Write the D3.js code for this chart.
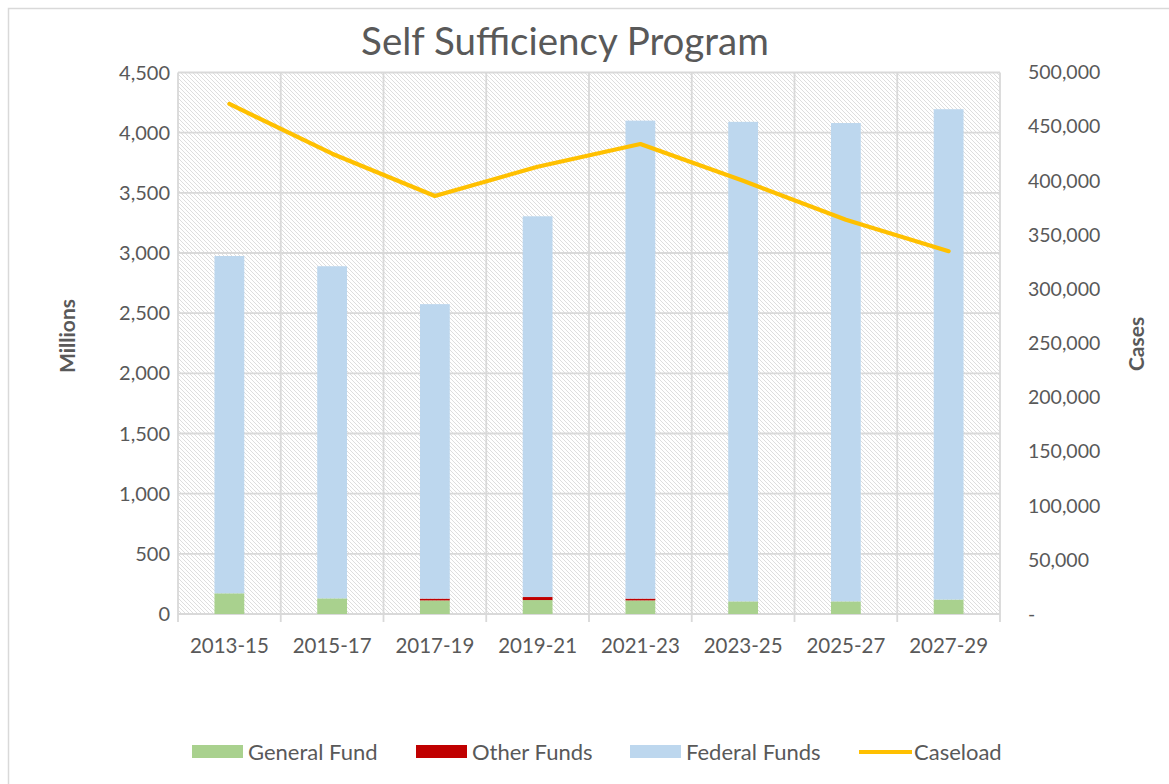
<!DOCTYPE html>
<html>
<head>
<meta charset="utf-8">
<script src="https://cdn.jsdelivr.net/npm/d3@7"></script>
<style>
  html, body { margin: 0; padding: 0; background: #ffffff; }
  svg { display: block; font-family: Lato, "Liberation Sans", sans-serif; }
</style>
</head>
<body>
<svg id="chart" width="1169" height="784"></svg>
<script>
// Biennium categories
const periods = ["2013-15", "2015-17", "2017-19", "2019-21", "2021-23", "2023-25", "2025-27", "2027-29"];

// Funding by source, in millions
const generalFund = [172, 130, 113, 116, 113, 105, 105, 120];
const otherFunds  = [0, 0, 15, 25, 15, 0, 0, 0];
const totalFunds  = [2975, 2890, 2575, 3305, 4100, 4090, 4080, 4195];
const federalFunds = totalFunds.map((t, i) => t - generalFund[i] - otherFunds[i]);

// Average caseload
const caseload = [471000, 425000, 386000, 413000, 434000, 400000, 364000, 335000];

// Axis ticks
const leftTicks = [0, 500, 1000, 1500, 2000, 2500, 3000, 3500, 4000, 4500];
const rightTicks = [0, 50000, 100000, 150000, 200000, 250000, 300000, 350000, 400000, 450000, 500000];

const seriesNames = ["General Fund", "Other Funds", "Federal Funds"];
const seriesColors = ["#a9d18e", "#c00000", "#bdd7ee"];
const lineColor = "#ffc000";
const textColor = "#595959";
const gridColor = "#d9d9d9";

const svg = d3.select("#chart");

// outer chart frame
svg.append("rect")
  .attr("x", 8.5).attr("y", 8.5)
  .attr("width", 1200).attr("height", 800)
  .attr("fill", "#ffffff")
  .attr("stroke", "#d9d9d9").attr("stroke-width", 1.5);

const plot = { left: 178, right: 1000, top: 72.5, bottom: 614 };

const x = d3.scaleBand().domain(periods).range([plot.left, plot.right]).paddingInner(0).paddingOuter(0);
const yL = d3.scaleLinear().domain([0, 4500]).range([plot.bottom, plot.top]);
const yR = d3.scaleLinear().domain([0, 500000]).range([plot.bottom, plot.top]);

// diagonal hatch fill for the plot area
const defs = svg.append("defs");
const pat = defs.append("pattern")
  .attr("id", "hatch").attr("patternUnits", "userSpaceOnUse")
  .attr("width", 4).attr("height", 4);
pat.append("rect").attr("width", 4).attr("height", 4).attr("fill", "#ffffff");
pat.append("path")
  .attr("d", "M-1,-1 L5,5 M-1,3 L1,5 M3,-1 L5,1")
  .attr("stroke", "#dadada").attr("stroke-width", 0.9);

svg.append("rect")
  .attr("x", plot.left).attr("y", plot.top)
  .attr("width", plot.right - plot.left).attr("height", plot.bottom - plot.top)
  .attr("fill", "url(#hatch)");

// horizontal gridlines
svg.append("g").selectAll("line").data(leftTicks).join("line")
  .attr("x1", plot.left).attr("x2", plot.right)
  .attr("y1", d => yL(d)).attr("y2", d => yL(d))
  .attr("stroke", gridColor).attr("stroke-width", 1.8);

// vertical gridlines at category boundaries
const bounds = periods.map(p => x(p)).concat([plot.right]);
svg.append("g").selectAll("line").data(bounds).join("line")
  .attr("x1", d => d).attr("x2", d => d)
  .attr("y1", plot.top).attr("y2", plot.bottom + 8)
  .attr("stroke", gridColor).attr("stroke-width", 1.8);

// stacked bars
const rows = periods.map((p, i) => ({
  period: p,
  "General Fund": generalFund[i],
  "Other Funds": otherFunds[i],
  "Federal Funds": federalFunds[i]
}));
const stacked = d3.stack().keys(seriesNames)(rows);
const barW = x.bandwidth() * 0.29;

svg.append("g").selectAll("g").data(stacked).join("g")
  .attr("fill", (d, i) => seriesColors[i])
  .selectAll("rect").data(d => d).join("rect")
  .attr("x", d => x(d.data.period) + x.bandwidth() / 2 - barW / 2)
  .attr("width", barW)
  .attr("y", d => yL(d[1]))
  .attr("height", d => Math.max(0, yL(d[0]) - yL(d[1])));

// caseload line
const line = d3.line()
  .x((d, i) => x(periods[i]) + x.bandwidth() / 2)
  .y(d => yR(d));
svg.append("path")
  .datum(caseload)
  .attr("d", line)
  .attr("fill", "none")
  .attr("stroke", lineColor)
  .attr("stroke-width", 4.2)
  .attr("stroke-linecap", "round")
  .attr("stroke-linejoin", "round");

// left axis labels
const fmt = d3.format(",");
svg.append("g").selectAll("text").data(leftTicks).join("text")
  .attr("x", 170).attr("y", d => yL(d))
  .attr("dy", "0.35em")
  .attr("text-anchor", "end")
  .attr("fill", textColor).attr("font-size", 20)
  .text(d => fmt(d));

// right axis labels
svg.append("g").selectAll("text").data(rightTicks).join("text")
  .attr("x", 1028).attr("y", d => yR(d))
  .attr("dy", "0.35em")
  .attr("text-anchor", "start")
  .attr("fill", textColor).attr("font-size", 19.5)
  .text(d => d === 0 ? "-" : fmt(d));

// category labels
svg.append("g").selectAll("text").data(periods).join("text")
  .attr("x", d => x(d) + x.bandwidth() / 2).attr("y", 646)
  .attr("dy", "0.35em")
  .attr("text-anchor", "middle")
  .attr("fill", textColor).attr("font-size", 20.5)
  .text(d => d);

// axis titles
svg.append("text")
  .attr("transform", "translate(75,336) rotate(-90)")
  .attr("text-anchor", "middle")
  .attr("fill", textColor).attr("font-size", 21).attr("font-weight", "bold")
  .text("Millions");
svg.append("text")
  .attr("transform", "translate(1144,344) rotate(-90)")
  .attr("text-anchor", "middle")
  .attr("fill", textColor).attr("font-size", 21).attr("font-weight", "bold")
  .text("Cases");

// title
svg.append("text")
  .attr("x", 565).attr("y", 42)
  .attr("dy", "0.35em")
  .attr("text-anchor", "middle")
  .attr("fill", textColor).attr("font-size", 38.5)
  .text("Self Sufficiency Program");

// legend
const legendItems = [
  { name: "General Fund", color: seriesColors[0], type: "rect", x: 192 },
  { name: "Other Funds", color: seriesColors[1], type: "rect", x: 416 },
  { name: "Federal Funds", color: seriesColors[2], type: "rect", x: 630 },
  { name: "Caseload", color: lineColor, type: "line", x: 859 }
];
const lg = svg.append("g").selectAll("g").data(legendItems).join("g")
  .attr("transform", d => `translate(${d.x},752)`);
lg.filter(d => d.type === "rect").append("rect")
  .attr("x", 0).attr("y", -7).attr("width", 51).attr("height", 13)
  .attr("fill", d => d.color);
lg.filter(d => d.type === "line").append("line")
  .attr("x1", 0).attr("x2", 53).attr("y1", 0).attr("y2", 0)
  .attr("stroke", d => d.color).attr("stroke-width", 4.2);
lg.append("text")
  .attr("x", d => d.type === "line" ? 55 : 56).attr("y", 0)
  .attr("dy", "0.35em")
  .attr("fill", textColor).attr("font-size", 22)
  .text(d => d.name);
</script>
</body>
</html>
